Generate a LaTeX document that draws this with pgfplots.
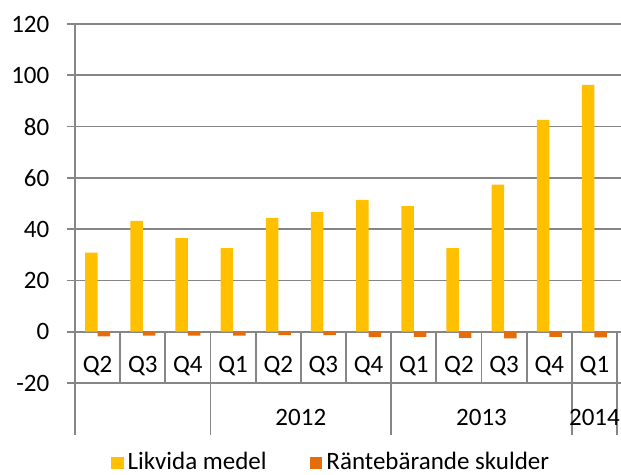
\documentclass[border=0pt]{standalone}
\usepackage{fontspec}
\setmainfont{Carlito}
\usepackage{pgfplots}
\pgfplotsset{compat=1.18}
\definecolor{likv}{RGB}{255,192,0}
\definecolor{rant}{RGB}{228,108,10}
\definecolor{gridc}{RGB}{134,134,134}
\begin{document}
\fontsize{12.5}{15}\selectfont
\begin{tikzpicture}
\path[use as bounding box] (0,0) rectangle (310.5pt,237.5pt);
\begin{axis}[
  at={(37.5pt,46pt)}, anchor=south west,
  scale only axis, width=271pt, height=179.5pt,
  xmin=0, xmax=12, ymin=-20, ymax=120,
  ytick={-20,0,20,40,60,80,100,120},
  ymajorgrids, grid style={gridc, line width=0.9pt},
  axis line style={draw=none},
  tick align=outside, major tick length=4pt,
  ytick style={gridc, line width=0.9pt},
  yticklabel style={xshift=-4.5pt},
  xtick={0.5,1.5,...,11.5},
  xticklabels={Q2,Q3,Q4,Q1,Q2,Q3,Q4,Q1,Q2,Q3,Q4,Q1},
  xtick style={draw=none},
  xticklabel style={anchor=center, yshift=12.3pt},
  ybar=0pt, bar width=6.25pt,
  clip=false,
  /pgf/number format/assume math mode=true,
  tick label style={font=\fontsize{12.5}{15}\selectfont},
  legend style={at={(0.474,-0.223)}, anchor=center, draw=none,
    font=\fontsize{12.5}{15}\selectfont,
    /tikz/every even column/.append style={column sep=19.5pt}},
  legend columns=2,
  legend image code/.code={\draw[#1, draw=none] (0pt,-3.2pt) rectangle (6.4pt,3.2pt);},
]
\addplot[fill=likv, draw=none] coordinates {
  (0.5,30.8) (1.5,43.2) (2.5,36.5) (3.5,32.6) (4.5,44.4) (5.5,46.6)
  (6.5,51.4) (7.5,49.0) (8.5,32.6) (9.5,57.4) (10.5,82.6) (11.5,96.3)};
\addplot[fill=rant, draw=none] coordinates {
  (0.5,-1.8) (1.5,-1.5) (2.5,-1.5) (3.5,-1.5) (4.5,-1.3) (5.5,-1.3)
  (6.5,-2.1) (7.5,-2.0) (8.5,-2.4) (9.5,-2.6) (10.5,-2.0) (11.5,-2.2)};
\legend{Likvida medel, Räntebärande skulder}
\pgfplotsinvokeforeach{1,2,4,5,6,8,9,10}{
  \draw[gridc, line width=0.9pt] (axis cs:#1,0) -- (axis cs:#1,-20);
}
\pgfplotsinvokeforeach{3,7,11,12}{
  \draw[gridc, line width=0.9pt] (axis cs:#1,0) -- ([yshift=-26pt]axis cs:#1,-20);
}
\draw[gridc, line width=0.9pt] (axis cs:0,120) -- ([yshift=-26pt]axis cs:0,-20);
\node at ([yshift=-17pt]axis cs:5,-20) {2012};
\node at ([yshift=-17pt]axis cs:9,-20) {2013};
\node at ([yshift=-17pt]axis cs:11.5,-20) {2014};
\end{axis}
\end{tikzpicture}
\end{document}
